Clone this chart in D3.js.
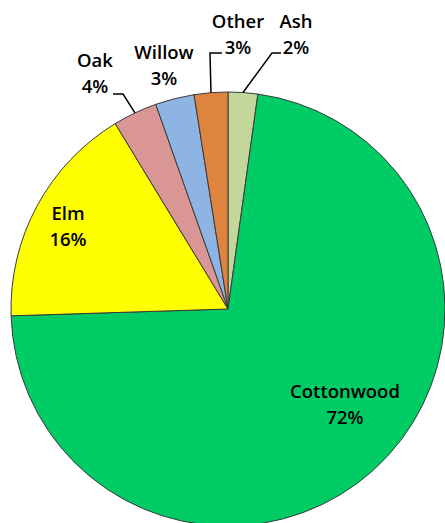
<!DOCTYPE html>
<html>
<head>
<meta charset="utf-8">
<script src="https://cdn.jsdelivr.net/npm/d3@7"></script>
<style>
  html, body { margin: 0; padding: 0; background: #fff; }
  svg { display: block; }
  .lbl { font-family: "Open Sans", sans-serif; font-size: 18.5px; font-weight: 600; fill: #000; }
</style>
</head>
<body>
<div id="chart"></div>
<script>
// data, in clockwise order from 12 o'clock (slice sizes, labels as printed)
var species = ["Ash", "Cottonwood", "Elm", "Oak", "Willow", "Other"];
var shares = [2.2, 72.3, 16.8, 3.3, 2.9, 2.5];
var pctLabels = ["2%", "72%", "16%", "4%", "3%", "3%"];
var colors = ["#c4d79b", "#00cc66", "#ffff00", "#d99694", "#8db4e2", "#df843f"];

var width = 445, height = 523;
var cx = 228, cy = 309, radius = 217;

// label placement (name line baseline, centre x) and optional leader elbow
var labelPos = [
  { x: 296, y: 28, leader: { ex: 272, ey: 53, hx: 281 } },
  { x: 345, y: 398 },
  { x: 68, y: 220 },
  { x: 95, y: 67, leader: { ex: 123, ey: 94, hx: 113 } },
  { x: 164, y: 59 },
  { x: 238, y: 28, leader: { ex: 210, ey: 53, hx: 222 } }
];

var svg = d3.select("#chart")
    .append("svg")
    .attr("width", width)
    .attr("height", height);

var g = svg.append("g")
    .attr("transform", "translate(" + cx + "," + cy + ")");

var pie = d3.pie().sort(null).value(d => d);
var arc = d3.arc().innerRadius(0).outerRadius(radius);

var arcs = pie(shares);

g.selectAll(".slice")
    .data(arcs)
    .enter()
    .append("path")
    .attr("class", "slice")
    .attr("d", arc)
    .attr("fill", (d, i) => colors[i])
    .attr("stroke", "#3a3a3a")
    .attr("stroke-width", 1)
    .attr("stroke-linejoin", "round");

// leader lines
arcs.forEach(function (d, i) {
  var lp = labelPos[i];
  if (!lp.leader) return;
  var mid = (d.startAngle + d.endAngle) / 2;
  var ax = cx + radius * Math.sin(mid), ay = cy - radius * Math.cos(mid);
  svg.append("polyline")
      .attr("points", [[ax, ay], [lp.leader.ex, lp.leader.ey], [lp.leader.hx, lp.leader.ey]].map(p => p.join(",")).join(" "))
      .attr("fill", "none")
      .attr("stroke", "#000")
      .attr("stroke-width", 1.5);
});

// labels
species.forEach(function (name, i) {
  var lp = labelPos[i];
  var t = svg.append("text")
      .attr("class", "lbl")
      .attr("text-anchor", "middle");
  t.append("tspan").attr("x", lp.x).attr("y", lp.y).text(name);
  t.append("tspan").attr("x", lp.x).attr("y", lp.y + 26).text(pctLabels[i]);
});
</script>
</body>
</html>
